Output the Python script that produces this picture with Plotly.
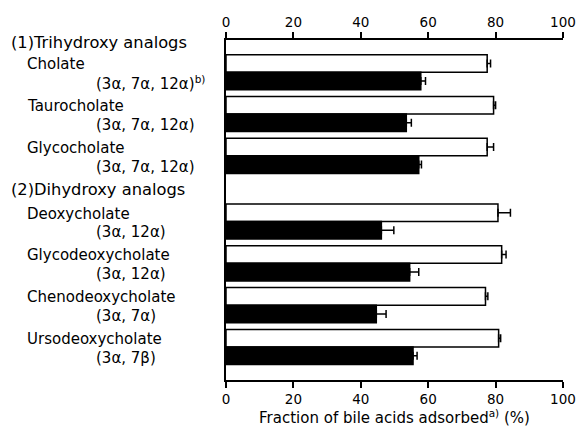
import plotly.graph_objects as go

# ---- data ----
group_headers = ["(1)Trihydroxy analogs", "(2)Dihydroxy analogs"]
names = ["Cholate", "Taurocholate", "Glycocholate",
         "Deoxycholate", "Glycodeoxycholate", "Chenodeoxycholate", "Ursodeoxycholate"]
formulas = ["(3α, 7α, 12α)<sup>b)</sup>", "(3α, 7α, 12α)", "(3α, 7α, 12α)",
            "(3α, 12α)", "(3α, 12α)", "(3α, 7α)", "(3α, 7β)"]
open_vals = [77.5, 79.4, 77.5, 80.7, 81.8, 77.0, 80.9]
open_errs = [1.0, 0.6, 1.9, 3.7, 1.3, 0.7, 0.6]
filled_vals = [57.8, 53.5, 57.2, 46.1, 54.5, 44.6, 55.5]
filled_errs = [1.4, 1.5, 0.8, 3.7, 2.7, 2.9, 1.2]
tick_vals = [0, 20, 40, 60, 80, 100]
x_title = "Fraction of bile acids adsorbed<sup>a)</sup> (%)"

# layout positions of the rows (group 2 shifted down to leave room for its header)
pos = [0, 1, 2, 3.57, 4.57, 5.57, 6.57]
header_pos = [-0.72, 2.80]

FONT = "DejaVu Sans"
W, H = 588, 432
L, R, T, B = 226, 17, 40, 44
plot_w = W - L - R

fig = go.Figure()
bw = 0.42
fig.add_trace(go.Bar(
    x=open_vals, y=pos, orientation="h", width=bw, offset=-bw,
    marker=dict(color="white", line=dict(color="black", width=1.5)),
    error_x=dict(type="data", symmetric=False, array=open_errs,
                 arrayminus=[0] * len(open_errs), color="black", thickness=1.5, width=4),
    showlegend=False, hoverinfo="x"))
fig.add_trace(go.Bar(
    x=filled_vals, y=pos, orientation="h", width=bw, offset=0,
    marker=dict(color="black", line=dict(color="black", width=1.5)),
    error_x=dict(type="data", symmetric=False, array=filled_errs,
                 arrayminus=[0] * len(filled_errs), color="black", thickness=1.5, width=4),
    showlegend=False, hoverinfo="x"))
# invisible trace to anchor the top axis
fig.add_trace(go.Scatter(x=[0, 100], y=[pos[0], pos[0]], xaxis="x2", mode="markers",
                         marker=dict(opacity=0), showlegend=False, hoverinfo="skip"))

ann = []
def px2paper(px):
    return (px - L) / plot_w

for txt, yp in zip(group_headers, header_pos):
    ann.append(dict(text=txt, x=px2paper(4), xref="paper", y=yp, yref="y",
                    xanchor="left", yanchor="middle", showarrow=False,
                    font=dict(family=FONT, size=16.3, color="black")))
for nm, fm, p in zip(names, formulas, pos):
    ann.append(dict(text=nm, x=px2paper(20), xref="paper", y=p - 0.19, yref="y",
                    xanchor="left", yanchor="middle", showarrow=False,
                    font=dict(family=FONT, size=15, color="black")))
    ann.append(dict(text=fm, x=px2paper(91), xref="paper", y=p + 0.26, yref="y",
                    xanchor="left", yanchor="middle", showarrow=False,
                    font=dict(family=FONT, size=15, color="black")))

axis_common = dict(range=[0, 100], tickvals=tick_vals, ticktext=[str(v) for v in tick_vals],
                   showline=True, linecolor="black", linewidth=1.5, ticks="outside",
                   ticklen=6, tickwidth=1.5, tickcolor="black", showgrid=False,
                   zeroline=False, tickfont=dict(family=FONT, size=13.5, color="black"))

fig.update_layout(
    width=W, height=H,
    margin=dict(l=L, r=R, t=T, b=B, pad=0),
    paper_bgcolor="white", plot_bgcolor="white",
    xaxis=dict(**axis_common, side="bottom",
               title=dict(text=x_title, standoff=3,
                          font=dict(family=FONT, size=15, color="black"))),
    xaxis2=dict(**axis_common, side="top", overlaying="x", anchor="y"),
    yaxis=dict(range=[7.36, -0.77], showline=True, linecolor="black", linewidth=1.5,
               showticklabels=False, ticks="", showgrid=False, zeroline=False),
    annotations=ann,
    font=dict(family=FONT, color="black"),
)

fig.write_html("out.html")
